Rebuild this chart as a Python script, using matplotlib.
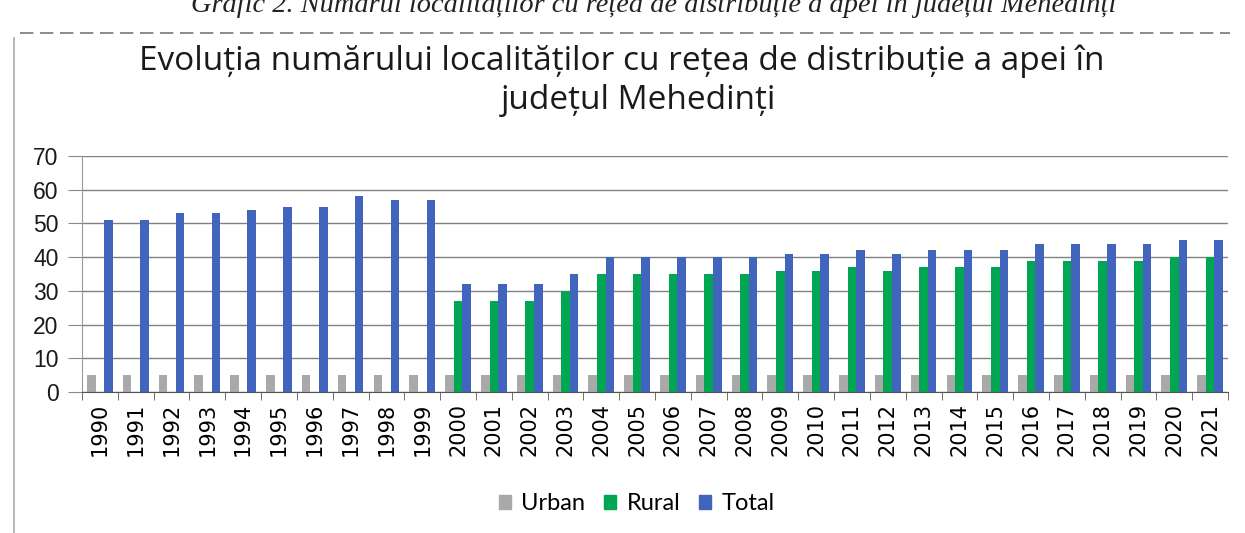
import numpy as np
import matplotlib
matplotlib.use('Agg')
from matplotlib import pyplot as plt
from matplotlib.patches import Patch
from matplotlib.lines import Line2D

# data
years = [str(y) for y in range(1990, 2022)]
urban = [5] * 32
rural = [0] * 10 + [27, 27, 27, 30, 35, 35, 35, 35, 35, 36, 36,
                    37, 36, 37, 37, 37, 39, 39, 39, 39, 40, 40]
total = [51, 51, 53, 53, 54, 55, 55, 58, 57, 57,
         32, 32, 32, 35, 40, 40, 40, 40, 40, 41, 41,
         42, 41, 42, 42, 42, 44, 44, 44, 44, 45, 45]

c_urban = '#a9a9a9'
c_rural = '#00a651'
c_total = '#4164bd'

fig = plt.figure(figsize=(12.45, 5.33), dpi=100)
ax = fig.add_axes([82/1245, 1 - 392/533, (1228-82)/1245, (392-156)/533])

x = np.arange(len(years))
w = 0.24
ax.bar(x - w, urban, w, color=c_urban)
ax.bar(x, rural, w, color=c_rural)
ax.bar(x + w, total, w, color=c_total)

ax.set_xlim(-0.5, len(years) - 0.5)
ax.set_ylim(0, 70)
ax.set_yticks(range(0, 71, 10))
ax.yaxis.grid(True, color='#808080', linewidth=1)
ax.set_axisbelow(True)

ax.set_xticks(x)
ax.set_xticklabels(years, rotation=90, fontsize=15, family='DejaVu Sans')
ax.set_xticks(np.arange(-0.5, len(years)), minor=True)
ax.tick_params(axis='x', which='major', length=0, pad=8)
ax.tick_params(axis='x', which='minor', length=6, color='#555555')
ax.tick_params(axis='y', length=10, color='#888888', labelsize=16.5, pad=7)
for lab in ax.get_yticklabels():
    lab.set_family('Liberation Sans')
    lab.set_color('#1a1a1a')

for s in ['top', 'right']:
    ax.spines[s].set_visible(False)
ax.spines['left'].set_color('#999999')
ax.spines['bottom'].set_color('#555555')

# chart title (two centred lines)
fig.text(622/1245, 1 - 70/533, 'Evoluția numărului localităților cu rețea de distribuție a apei în',
         ha='center', va='baseline', fontsize=24, family='Open Sans', color='#1a1a1a')
fig.text(638/1245, 1 - 109/533, 'județul Mehedinți',
         ha='center', va='baseline', fontsize=24, family='Open Sans', color='#1a1a1a')

# cut-off caption from the page above the chart
fig.text(654/1245, 1 - 12/533,
         'Grafic 2. Numărul localităților cu rețea de distribuție a apei în județul Mehedinți',
         ha='center', va='baseline', fontsize=20.4, family='Liberation Serif',
         style='italic', color='#222222')
fig.add_artist(Line2D([20/1245, 1230/1245], [1 - 33/533, 1 - 33/533],
                      color='#777777', linewidth=1.2, linestyle=(0, (8, 4))))
fig.add_artist(Line2D([14/1245, 14/1245], [0, 1 - 38/533],
                      color='#aaaaaa', linewidth=1.2))

handles = [Patch(color=c_urban, label='Urban'),
           Patch(color=c_rural, label='Rural'),
           Patch(color=c_total, label='Total')]
fig.legend(handles=handles, loc='center', bbox_to_anchor=(637/1245, 1 - 504/533),
           ncol=3, frameon=False, handlelength=0.5, handleheight=0.5,
           handletextpad=0.45, columnspacing=0.8,
           prop={'family': 'Lato', 'size': 17})

fig.savefig('out.png', dpi=100)
